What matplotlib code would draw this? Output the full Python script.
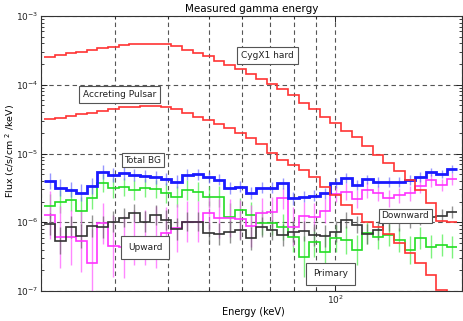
import numpy as np
import matplotlib
matplotlib.use("Agg")
import matplotlib.pyplot as plt
from matplotlib.ticker import LogLocator, NullFormatter

# Energy binning (keV), log-spaced bins as in the figure
e_lo, e_hi, n_bins = 20.37, 195.1, 39
edges = np.logspace(np.log10(e_lo), np.log10(e_hi), n_bins + 1)
centers = np.sqrt(edges[:-1] * edges[1:])

cygx1 = [2.56e-4, 2.71e-4, 2.86e-4, 3.03e-4, 3.20e-4, 3.39e-4, 3.57e-4, 3.75e-4, 3.87e-4, 3.92e-4,
         3.96e-4, 3.98e-4, 3.72e-4, 3.20e-4, 2.90e-4, 2.62e-4, 2.24e-4, 1.94e-4, 1.68e-4, 1.43e-4,
         1.20e-4, 1.02e-4, 8.81e-5, 7.10e-5, 5.43e-5, 4.44e-5, 3.43e-5, 2.75e-5, 2.15e-5, 1.72e-5,
         1.30e-5, 9.51e-6, 7.28e-6, 5.56e-6, 4.12e-6, 2.94e-6, 1.91e-6, 1.04e-6, 1.01e-6]

pulsar = [3.14e-5, 3.32e-5, 3.51e-5, 3.72e-5, 3.92e-5, 4.19e-5, 4.49e-5, 4.70e-5, 4.80e-5, 4.86e-5,
          4.86e-5, 4.75e-5, 4.37e-5, 3.88e-5, 3.43e-5, 3.07e-5, 2.69e-5, 2.33e-5, 1.97e-5, 1.66e-5,
          1.37e-5, 1.02e-5, 8.04e-6, 6.81e-6, 5.75e-6, 4.60e-6, 3.29e-6, 2.49e-6, 1.78e-6, 1.32e-6,
          1.01e-6, 8.53e-7, 6.75e-7, 4.99e-7, 3.57e-7, 2.55e-7, 1.71e-7, 1.04e-7, 5.0e-8]

total_bg = [3.98e-6, 3.20e-6, 2.99e-6, 2.69e-6, 3.37e-6, 5.43e-6, 4.87e-6, 5.12e-6, 4.87e-6, 4.71e-6,
            4.48e-6, 4.26e-6, 3.91e-6, 4.87e-6, 5.03e-6, 4.55e-6, 4.12e-6, 3.15e-6, 3.26e-6, 2.66e-6,
            3.15e-6, 3.18e-6, 3.69e-6, 2.22e-6, 2.33e-6, 2.41e-6, 2.64e-6, 3.69e-6, 4.36e-6, 3.48e-6,
            4.19e-6, 3.89e-6, 3.85e-6, 3.89e-6, 4.12e-6, 4.55e-6, 5.43e-6, 5.03e-6, 5.95e-6]
total_bg_err = [0.12, 0.12, 0.11, 0.12, 0.11, 0.10, 0.10, 0.09, 0.09, 0.09,
                0.09, 0.09, 0.09, 0.08, 0.08, 0.08, 0.08, 0.09, 0.08, 0.09,
                0.08, 0.08, 0.08, 0.09, 0.08, 0.08, 0.08, 0.07, 0.07, 0.07,
                0.07, 0.07, 0.07, 0.07, 0.07, 0.07, 0.06, 0.06, 0.06]

primary = [1.72e-6, 1.99e-6, 2.14e-6, 1.46e-6, 2.23e-6, 3.69e-6, 3.15e-6, 3.29e-6, 2.94e-6, 3.12e-6,
           3.01e-6, 2.66e-6, 2.35e-6, 2.94e-6, 2.78e-6, 2.35e-6, 2.35e-6, 1.20e-6, 1.51e-6, 1.27e-6,
           9.85e-7, 9.75e-7, 8.62e-7, 6.16e-7, 3.15e-7, 5.21e-7, 3.73e-7, 5.84e-7, 5.52e-7, 3.95e-7,
           6.91e-7, 6.10e-7, 6.52e-7, 5.52e-7, 3.95e-7, 5.90e-7, 4.41e-7, 4.67e-7, 4.37e-7]
primary_err = [0.18, 0.17, 0.17, 0.20, 0.16, 0.13, 0.14, 0.13, 0.14, 0.13,
               0.13, 0.14, 0.15, 0.14, 0.14, 0.15, 0.15, 0.20, 0.18, 0.19,
               0.18, 0.18, 0.19, 0.22, 0.30, 0.22, 0.26, 0.20, 0.20, 0.22,
               0.16, 0.17, 0.16, 0.17, 0.20, 0.16, 0.17, 0.16, 0.16]

upward = [1.27e-6, 6.04e-7, 6.04e-7, 5.39e-7, 2.53e-7, 9.65e-7, 4.56e-7, 4.32e-7, 6.04e-7, 6.04e-7,
          6.1e-7, 7.0e-7, 8.2e-7, 1.02e-6, 1.02e-6, 1.35e-6, 1.14e-6, 1.15e-6, 1.10e-6, 8.8e-7,
          1.35e-6, 1.42e-6, 2.23e-6, 8.62e-7, 1.23e-6, 1.20e-6, 1.46e-6, 2.58e-6, 2.78e-6, 2.18e-6,
          2.94e-6, 2.64e-6, 2.22e-6, 2.45e-6, 2.64e-6, 3.37e-6, 4.05e-6, 3.48e-6, 4.22e-6]
upward_err = [0.35, 0.45, 0.40, 0.45, 0.50, 0.30, 0.45, 0.45, 0.40, 0.40,
              0.45, 0.38, 0.35, 0.30, 0.30, 0.25, 0.28, 0.28, 0.28, 0.30,
              0.22, 0.22, 0.15, 0.28, 0.20, 0.20, 0.18, 0.12, 0.12, 0.13,
              0.11, 0.11, 0.12, 0.11, 0.11, 0.10, 0.09, 0.09, 0.09]

downward = [9.43e-7, 5.39e-7, 8.44e-7, 6.31e-7, 8.82e-7, 8.44e-7, 1.02e-6, 1.16e-6, 1.38e-6, 1.02e-6,
            1.27e-6, 1.08e-6, 7.98e-7, 1.02e-6, 1.02e-6, 6.98e-7, 6.75e-7, 7.29e-7, 7.71e-7, 5.84e-7,
            8.53e-7, 7.71e-7, 6.52e-7, 7.29e-7, 7.46e-7, 6.52e-7, 6.31e-7, 7.29e-7, 1.08e-6, 9.27e-7,
            6.75e-7, 7.59e-7, 9.75e-7, 1.00e-6, 1.08e-6, 1.15e-6, 1.21e-6, 1.25e-6, 1.41e-6]
downward_err = [0.16, 0.20, 0.16, 0.18, 0.16, 0.16, 0.15, 0.14, 0.13, 0.15,
                0.14, 0.15, 0.16, 0.14, 0.14, 0.16, 0.16, 0.16, 0.15, 0.17,
                0.15, 0.15, 0.16, 0.15, 0.15, 0.16, 0.16, 0.15, 0.12, 0.13,
                0.15, 0.14, 0.12, 0.12, 0.11, 0.10, 0.10, 0.09, 0.09]

fig = plt.figure(figsize=(4.63, 3.21), dpi=100)
ax = fig.add_axes([41 / 463, 30 / 321, 421 / 463, 275 / 321])
ax.set_xscale("log")
ax.set_yscale("log")
ax.set_xlim(20, 200)
ax.set_ylim(1e-7, 1e-3)

grid_kw = dict(color="#555555", linestyle=(0, (4, 3)), linewidth=0.8)
ax.grid(axis="x", which="both", **grid_kw)
ax.grid(axis="y", which="major", **grid_kw)
ax.set_axisbelow(True)


def draw_series(vals, errs, color, lw, ecolor):
    vals = np.asarray(vals)
    if errs is not None:
        errs = np.asarray(errs)
        ax.vlines(centers, vals * 10 ** (-errs), vals * 10 ** errs,
                  color=ecolor, linewidth=1.0, alpha=0.7, zorder=2)
    ax.stairs(vals, edges, color=color, linewidth=lw, baseline=None, zorder=3)


draw_series(primary, primary_err, "#22dd22", 1.2, "#44ee44")
draw_series(upward, upward_err, "#ff33ff", 1.2, "#ff55ff")
draw_series(downward, downward_err, "#333333", 1.2, "#666666")
draw_series(total_bg, total_bg_err, "#1a1aff", 2.0, "#6a6aff")
ax.stairs(cygx1, edges, color="#ff3333", linewidth=1.2, baseline=None, zorder=4)
ax.stairs(pulsar, edges, color="#ff3333", linewidth=1.2, baseline=None, zorder=4)

ax.xaxis.set_minor_locator(LogLocator(base=10, subs=np.arange(2, 10)))
ax.xaxis.set_minor_formatter(NullFormatter())
ax.yaxis.set_minor_locator(LogLocator(base=10, subs=np.arange(2, 10)))
ax.yaxis.set_minor_formatter(NullFormatter())
ax.tick_params(which="both", direction="in", top=True, right=True, labelsize=6.5,
               colors="#222222")
ax.tick_params(which="major", length=4, width=0.7, pad=2)
ax.tick_params(which="minor", length=2, width=0.6)
for s in ax.spines.values():
    s.set_linewidth(0.8)
    s.set_color("#333333")

ax.set_title("Measured gamma energy", fontsize=7.5, pad=3)
ax.set_xlabel("Energy (keV)", fontsize=7)
ax.xaxis.set_label_coords(0.504, -0.058)
ax.set_ylabel(r"Flux (c/s/cm $^{2}$ /keV)", fontsize=6.8)
ax.yaxis.set_label_coords(-0.058, 0.51)

labels = [("CygX1 hard", 0.538, 0.856, 0.45), ("Accreting Pulsar", 0.186, 0.715, 0.45),
          ("Total BG", 0.242, 0.476, 0.3), ("Upward", 0.248, 0.158, 0.75),
          ("Primary", 0.688, 0.062, 0.75), ("Downward", 0.865, 0.273, 0.3)]
for txt, xx, yy, pad in labels:
    box = dict(boxstyle=f"square,pad={pad}", facecolor="white", edgecolor="#555555",
               linewidth=0.8)
    ax.text(xx, yy, txt, transform=ax.transAxes, ha="center", va="center",
            fontsize=6.5, bbox=box, zorder=10, color="#222222")

fig.savefig("out.png", dpi=100)
